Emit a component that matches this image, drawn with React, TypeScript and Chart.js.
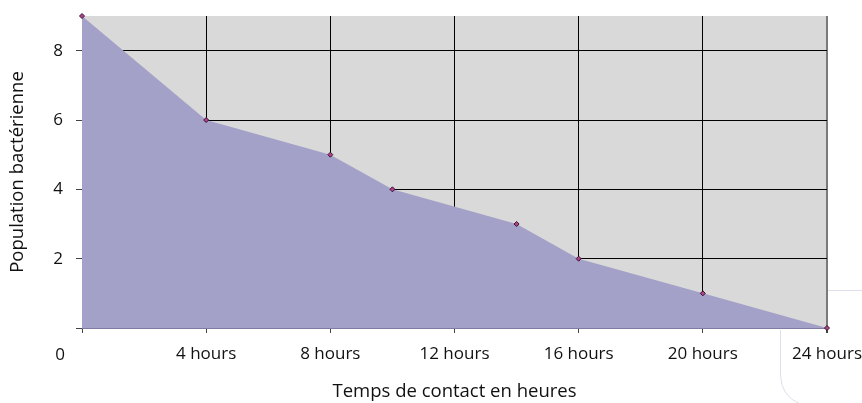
import React, { useEffect, useRef } from "react";
import { Chart, registerables } from "chart.js";

Chart.register(...registerables);

const hours = [0, 4, 8, 10, 14, 16, 20, 24];
const population = [9, 6, 5, 4, 3, 2, 1, 0];
const xTickValues = [0, 4, 8, 12, 16, 20, 24];
const yTickValues = [2, 4, 6, 8];
const xTitle = "Temps de contact en heures";
const yTitle = "Population bactérienne";
const FONT = "'Open Sans', 'Noto Sans', sans-serif";

export default function App() {
  const ref = useRef<HTMLCanvasElement | null>(null);

  useEffect(() => {
    document.body.style.margin = "0";
    const canvas = ref.current;
    if (!canvas) return;

    const bgPlugin = {
      id: "plotBg",
      beforeDraw(chart: any) {
        const { ctx, chartArea } = chart;
        ctx.save();
        ctx.fillStyle = "#d9d9d9";
        ctx.fillRect(chartArea.left, chartArea.top, chartArea.right - chartArea.left, chartArea.bottom - chartArea.top);
        ctx.restore();
      },
      afterDraw(chart: any) {
        const { ctx } = chart;
        const xs = chart.scales.x;
        ctx.save();
        // "0" origin label
        ctx.fillStyle = "#111";
        ctx.font = `17px ${FONT}`;
        ctx.textAlign = "center";
        ctx.textBaseline = "middle";
        ctx.fillText("0", xs.getPixelForValue(0) - 22, 355);
        // faint decoration at lower right
        ctx.strokeStyle = "#dedeec";
        ctx.lineWidth = 1;
        ctx.beginPath();
        ctx.moveTo(828, 290.5);
        ctx.lineTo(862, 290.5);
        ctx.stroke();
        ctx.beginPath();
        ctx.moveTo(780.5, 330);
        ctx.lineTo(780.5, 375);
        ctx.quadraticCurveTo(781, 396, 800, 404);
        ctx.stroke();
        ctx.restore();
      },
    };

    const chart = new Chart(canvas, {
      type: "line",
      data: {
        datasets: [
          {
            data: hours.map((h, i) => ({ x: h, y: population[i] })),
            fill: "origin",
            backgroundColor: "rgb(163,161,200)",
            borderWidth: 0,
            borderColor: "rgba(0,0,0,0)",
            pointStyle: "rectRot",
            pointRadius: 2.5,
            pointBackgroundColor: "#b0458a",
            pointBorderColor: "#3a1030",
            pointBorderWidth: 1,
            tension: 0,
            clip: false as any,
          },
        ],
      },
      plugins: [bgPlugin],
      options: {
        animation: false,
        responsive: false,
        devicePixelRatio: 1,
        layout: { padding: { left: 0, right: 35, top: 16, bottom: 0 } },
        plugins: { legend: { display: false }, tooltip: { enabled: false } },
        scales: {
          x: {
            type: "linear",
            min: 0,
            max: 24,
            afterBuildTicks(scale: any) {
              scale.ticks = xTickValues.map((v) => ({ value: v }));
            },
            afterFit(scale: any) {
              scale.height = 75;
              scale.paddingLeft = 0;
              scale.paddingRight = 0;
            },
            ticks: {
              color: "#111",
              font: { family: FONT, size: 17 },
              padding: 11,
              maxRotation: 0,
              autoSkip: false,
              callback: (v: any) => (Number(v) === 0 ? "" : `${v} hours`),
            },
            grid: {
              color: (c: any) =>
                c.tick && c.tick.value === 24 ? "#7a7a7a" : c.tick && c.tick.value === 0 ? "rgba(0,0,0,0)" : "#000",
              lineWidth: (c: any) => (c.tick && c.tick.value === 24 ? 2 : 1),
              tickLength: 5,
              tickColor: "#444",
            },
            border: { display: true, color: "#7f7ca3", width: 1 },
            title: {
              display: true,
              text: xTitle,
              color: "#111",
              font: { family: FONT, size: 18.5 },
              padding: { top: 0, bottom: 0 },
            },
          },
          y: {
            type: "linear",
            min: 0,
            max: 9,
            afterBuildTicks(scale: any) {
              scale.ticks = [0, ...yTickValues].map((v) => ({ value: v }));
            },
            afterFit(scale: any) {
              scale.width = 82;
              scale.paddingTop = 0;
              scale.paddingBottom = 0;
            },
            ticks: {
              color: "#111",
              font: { family: FONT, size: 17 },
              padding: 13,
              callback: (v: any) => (Number(v) === 0 ? "" : String(v)),
            },
            grid: {
              color: (c: any) => (c.tick && c.tick.value === 0 ? "rgba(0,0,0,0)" : "#000"),
              lineWidth: 1,
              tickLength: 6,
              tickColor: "#444",
            },
            border: { display: true, color: "#7f7ca3", width: 1 },
            title: {
              display: true,
              text: yTitle,
              color: "#111",
              font: { family: FONT, size: 18.5 },
              padding: { top: 7, bottom: 0 },
            },
          },
        },
      },
    } as any);

    return () => chart.destroy();
  }, []);

  return (
    <div style={{ position: "absolute", left: 0, top: 0, width: 862, height: 403, background: "#fff" }}>
      <canvas ref={ref} width={862} height={403} style={{ width: 862, height: 403, display: "block" }} />
    </div>
  );
}
